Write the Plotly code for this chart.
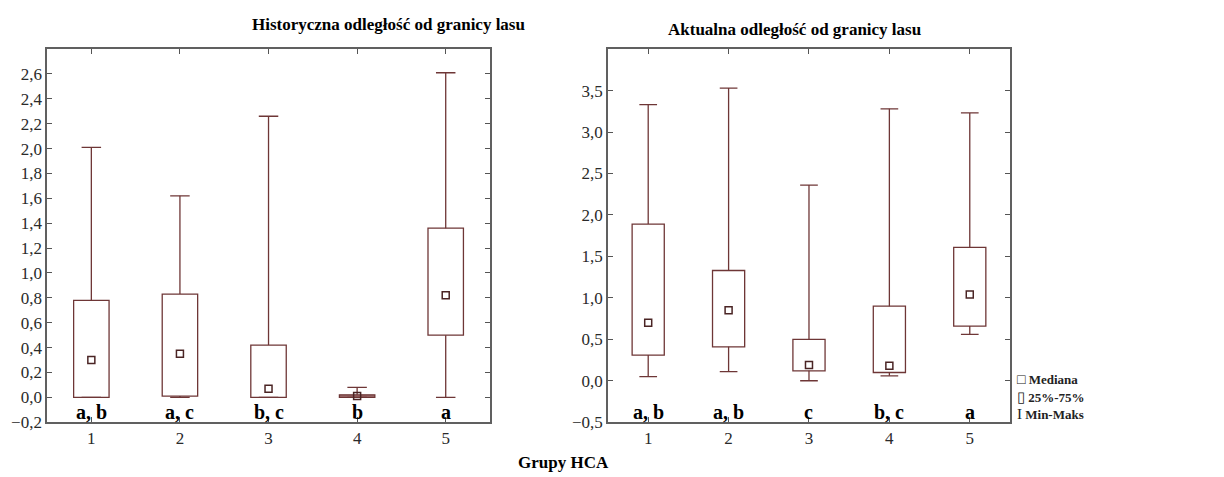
import plotly.graph_objects as go

groups = [1, 2, 3, 4, 5]
letters_hist = ["a, b", "a, c", "b, c", "b", "a"]
letters_akt = ["a, b", "a, b", "c", "b, c", "a"]

# Historyczna odległość od granicy lasu
hist_min = [0.0, 0.0, 0.0, 0.0, 0.0]
hist_q1 = [0.0, 0.01, 0.0, 0.0, 0.50]
hist_med = [0.30, 0.35, 0.07, 0.01, 0.82]
hist_q3 = [0.78, 0.83, 0.42, 0.02, 1.36]
hist_max = [2.01, 1.62, 2.26, 0.08, 2.61]

# Aktualna odległość od granicy lasu
akt_min = [0.05, 0.11, 0.0, 0.06, 0.56]
akt_q1 = [0.31, 0.41, 0.12, 0.10, 0.66]
akt_med = [0.70, 0.85, 0.19, 0.18, 1.04]
akt_q3 = [1.89, 1.33, 0.50, 0.90, 1.61]
akt_max = [3.33, 3.53, 2.36, 3.28, 3.23]

legend_labels = ["Mediana", "25%-75%", "Min-Maks"]
legend_glyphs = ["□", "▯", "I"]

LINE = "#6e3636"
FRAME = "#606060"
FONT = "Liberation Serif"
BOXW = 0.40
CAPH = 0.11

fig = go.Figure()


def add_panel(xa, ya, mn, q1, med, q3, mx):
    fills = ["white" if (b - a) > 0.05 else "#a07070" for a, b in zip(q1, q3)]
    fig.add_trace(go.Bar(
        x=groups, y=[b - a for a, b in zip(q1, q3)], base=q1, width=BOXW,
        marker=dict(color=fills, line=dict(color=LINE, width=1.3)),
        xaxis=xa, yaxis=ya, showlegend=False, hoverinfo="skip"))
    wx, wy, cx, cy = [], [], [], []
    for g, a, b, c, d in zip(groups, mn, q1, q3, mx):
        wx += [g, g, None, g, g, None]
        wy += [c, d, None, a, b, None]
        cx += [g - CAPH, g + CAPH, None, g - CAPH, g + CAPH, None]
        cy += [d, d, None, a, a, None]
    fig.add_trace(go.Scatter(x=wx, y=wy, mode="lines", line=dict(color=LINE, width=1.3),
                             xaxis=xa, yaxis=ya, showlegend=False, hoverinfo="skip"))
    fig.add_trace(go.Scatter(x=cx, y=cy, mode="lines", line=dict(color=LINE, width=1.3),
                             xaxis=xa, yaxis=ya, showlegend=False, hoverinfo="skip"))
    fig.add_trace(go.Scatter(x=groups, y=med, mode="markers",
                             marker=dict(symbol="square-open", size=7, color="#4a2424",
                                         line=dict(width=1.5)),
                             xaxis=xa, yaxis=ya, showlegend=False, hoverinfo="skip"))


add_panel("x", "y", hist_min, hist_q1, hist_med, hist_q3, hist_max)
add_panel("x2", "y2", akt_min, akt_q1, akt_med, akt_q3, akt_max)

axis_common = dict(showline=True, linecolor=FRAME, linewidth=1.5, mirror="ticks",
                   ticks="inside", ticklen=5, tickcolor="#555", showgrid=False,
                   zeroline=False, tickfont=dict(family=FONT, size=17, color="#2a2a2a"))

fig.update_layout(
    width=1224, height=477,
    margin=dict(l=0, r=0, t=0, b=0),
    paper_bgcolor="white", plot_bgcolor="white",
    font=dict(family=FONT, color="#222"),
    separators=", ",
    barmode="overlay",
    xaxis=dict(domain=[0.0319, 0.3938], range=[0.5, 5.5], tickvals=groups, anchor="y", **axis_common),
    yaxis=dict(domain=[0.113, 0.912], range=[-0.2, 2.8], tickvals=[round(-0.2 + 0.2 * i, 1) for i in range(15)],
               tickformat=".1f", anchor="x", **axis_common),
    xaxis2=dict(domain=[0.4902, 0.8186], range=[0.5, 5.5], tickvals=groups, anchor="y2", **axis_common),
    yaxis2=dict(domain=[0.113, 0.912], range=[-0.5, 4.0], tickvals=[-0.5, 0, 0.5, 1, 1.5, 2, 2.5, 3, 3.5],
                tickformat=".1f", anchor="x2", **axis_common),
    showlegend=False,
)

ann = []
for g, t in zip(groups, letters_hist):
    ann.append(dict(x=g, y=-0.118, xref="x", yref="y", text="<b>%s</b>" % t, showarrow=False,
                    font=dict(family=FONT, size=20, color="black")))
for g, t in zip(groups, letters_akt):
    ann.append(dict(x=g, y=-0.38, xref="x2", yref="y2", text="<b>%s</b>" % t, showarrow=False,
                    font=dict(family=FONT, size=20, color="black")))
ann.append(dict(x=242 / 1224, y=1 - 17 / 477, xref="paper", yref="paper", yanchor="middle",
                text="<b>Historyczna odległość od granicy lasu</b>", showarrow=False,
                font=dict(family=FONT, size=17, color="black")))
ann.append(dict(x=786 / 1224, y=1 - 22 / 477, xref="paper", yref="paper", yanchor="middle",
                text="<b>Aktualna odległość od granicy lasu</b>", showarrow=False,
                font=dict(family=FONT, size=17, color="black")))
ann.append(dict(x=555 / 1224, y=1 - 464 / 477, xref="paper", yref="paper", yanchor="middle",
                text="<b>Grupy HCA</b>", showarrow=False,
                font=dict(family=FONT, size=17, color="black")))
leg_y = [379, 397, 415]
leg_sz = [14, 15, 15]
for i, (gl, lab) in enumerate(zip(legend_glyphs, legend_labels)):
    ann.append(dict(x=1007 / 1224, y=1 - leg_y[i] / 477, xref="paper", yref="paper",
                    xanchor="left", yanchor="middle", showarrow=False,
                    text="<span style='font-size:%dpx'>%s</span> <b>%s</b>" % (leg_sz[i], gl, lab),
                    font=dict(family=FONT, size=13, color="#222")))
fig.update_layout(annotations=ann)

fig.write_html("out.html")
